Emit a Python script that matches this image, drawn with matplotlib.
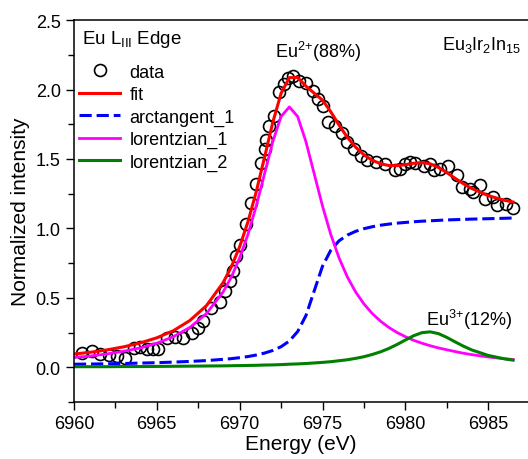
import matplotlib
matplotlib.use('Agg')
import matplotlib.pyplot as plt
from matplotlib.ticker import MultipleLocator

plt.rcParams['font.family'] = ['Liberation Sans', 'DejaVu Sans']
plt.rcParams['mathtext.fontset'] = 'custom'
plt.rcParams['mathtext.rm'] = 'Liberation Sans'
plt.rcParams['mathtext.it'] = 'Liberation Sans'

# measured points (open circles)
data_x = [6960.5, 6961.1, 6961.6, 6962.1, 6962.6, 6963.1, 6963.6, 6964.0, 6964.4, 6964.8,
          6965.1, 6965.6, 6966.1, 6966.6, 6967.1, 6967.5, 6967.8, 6968.3, 6968.8, 6969.1,
          6969.4, 6969.6, 6969.8, 6970.0, 6970.4, 6970.7, 6971.0, 6971.3, 6971.5, 6971.6,
          6971.8, 6972.1, 6972.4, 6972.7, 6972.9, 6973.2, 6973.6, 6974.0, 6974.4, 6974.75,
          6975.05, 6975.35, 6975.75, 6976.2, 6976.5, 6976.9, 6977.3, 6977.7, 6978.2, 6978.8,
          6979.4, 6979.7, 6980.0, 6980.3, 6980.6, 6981.1, 6981.5, 6981.7, 6982.1, 6982.6,
          6983.1, 6983.4, 6983.9, 6984.1, 6984.5, 6984.8, 6985.3, 6985.5, 6986.1, 6986.5]
data_y = [0.105, 0.12, 0.095, 0.085, 0.078, 0.068, 0.14, 0.145, 0.135, 0.135,
          0.132, 0.21, 0.22, 0.21, 0.25, 0.28, 0.33, 0.43, 0.47, 0.55,
          0.62, 0.69, 0.80, 0.88, 1.03, 1.18, 1.32, 1.47, 1.57, 1.64,
          1.74, 1.81, 1.98, 2.04, 2.08, 2.10, 2.06, 2.05, 1.99, 1.93,
          1.88, 1.77, 1.74, 1.69, 1.62, 1.57, 1.525, 1.49, 1.475, 1.465,
          1.42, 1.43, 1.465, 1.48, 1.47, 1.45, 1.465, 1.42, 1.43, 1.453,
          1.385, 1.30, 1.285, 1.26, 1.31, 1.215, 1.226, 1.166, 1.178, 1.147]

# energies at which the fitted curves were read
curve_x = [6960, 6961, 6962, 6963, 6964, 6965, 6966, 6967, 6968, 6969, 6969.5,
           6970, 6970.5, 6971, 6971.5, 6972, 6972.5, 6973, 6973.5, 6974, 6974.5,
           6975, 6975.5, 6976, 6976.5, 6977, 6977.5, 6978, 6978.5, 6979, 6979.5,
           6980, 6980.5, 6981, 6981.5, 6982, 6982.5, 6983, 6983.5, 6984, 6985,
           6986, 6986.5]
fit_y = [0.095, 0.108, 0.125, 0.147, 0.175, 0.212, 0.263, 0.337, 0.444, 0.609, 0.724,
         0.868, 1.047, 1.264, 1.511, 1.764, 1.973, 2.086, 2.087, 2.025, 1.974,
         1.924, 1.840, 1.744, 1.656, 1.585, 1.530, 1.491, 1.466, 1.453, 1.452,
         1.459, 1.469, 1.474, 1.465, 1.439, 1.402, 1.361, 1.322, 1.288, 1.236,
         1.202, 1.190]
arctan_y = [0.022, 0.023, 0.025, 0.027, 0.030, 0.033, 0.037, 0.042, 0.048, 0.057, 0.062,
            0.069, 0.077, 0.088, 0.102, 0.121, 0.148, 0.189, 0.257, 0.372, 0.550,
            0.728, 0.843, 0.911, 0.952, 0.979, 0.998, 1.012, 1.023, 1.031, 1.038,
            1.043, 1.048, 1.052, 1.055, 1.058, 1.061, 1.063, 1.065, 1.067, 1.070,
            1.073, 1.075]
lor1_y = [0.070, 0.081, 0.096, 0.115, 0.139, 0.173, 0.220, 0.287, 0.387, 0.542, 0.650,
          0.787, 0.956, 1.161, 1.393, 1.625, 1.806, 1.875, 1.806, 1.625, 1.393,
          1.161, 0.956, 0.787, 0.650, 0.542, 0.456, 0.387, 0.332, 0.287, 0.250,
          0.220, 0.194, 0.173, 0.155, 0.139, 0.126, 0.113, 0.101, 0.091, 0.074,
          0.061, 0.056]
lor2_y = [0.004, 0.004, 0.004, 0.005, 0.005, 0.006, 0.007, 0.008, 0.009, 0.010, 0.011,
          0.012, 0.013, 0.014, 0.016, 0.017, 0.019, 0.022, 0.024, 0.027, 0.031,
          0.035, 0.040, 0.047, 0.054, 0.064, 0.076, 0.092, 0.111, 0.135, 0.164,
          0.196, 0.227, 0.249, 0.255, 0.242, 0.215, 0.183, 0.152, 0.125, 0.085,
          0.060, 0.051]

fig = plt.figure(figsize=(5.28, 4.6), dpi=100)
ax = fig.add_axes([0.140, 0.124, 0.860, 0.830])

ax.plot(data_x, data_y, 'o', mfc='none', mec='black', ms=8.6, mew=1.2, label='data')
ax.plot(curve_x, fit_y, color='red', lw=2.2, label='fit')
ax.plot(curve_x, arctan_y, color='blue', lw=2.2, dashes=(4, 1.6), label='arctangent_1')
ax.plot(curve_x, lor1_y, color='magenta', lw=2.0, label='lorentzian_1')
ax.plot(curve_x, lor2_y, color='green', lw=2.2, label='lorentzian_2')

ax.set_xlim(6960, 6987.4)
ax.set_ylim(-0.25, 2.5)
ax.xaxis.set_major_locator(MultipleLocator(5))
ax.xaxis.set_minor_locator(MultipleLocator(2.5))
ax.yaxis.set_major_locator(MultipleLocator(0.5))
ax.yaxis.set_minor_locator(MultipleLocator(0.25))
ax.yaxis.set_major_formatter(plt.FormatStrFormatter('%.1f'))
ax.tick_params(which='major', direction='out', length=6, width=1, labelsize=13)
ax.tick_params(which='minor', direction='out', length=4, width=1)
ax.spines['right'].set_visible(False)
for s in ['left', 'bottom', 'top']:
    ax.spines[s].set_linewidth(1.1)

ax.set_xlabel('Energy (eV)', fontsize=15, labelpad=1)
ax.set_ylabel('Normalized intensity', fontsize=15, labelpad=4)

ax.text(0.018, 0.953, 'Eu L$_{\\rm III}$ Edge', transform=ax.transAxes, fontsize=13.5,
        ha='left', va='center')
ax.text(6974.7, 2.28, 'Eu$^{2{+}}$(88%)', fontsize=13, ha='center', va='center')
ax.text(6984.6, 2.33, 'Eu$_3$Ir$_2$In$_{15}$', fontsize=13, ha='center', va='center')
ax.text(6983.85, 0.35, 'Eu$^{3{+}}$(12%)', fontsize=13, ha='center', va='center')

ax.legend(loc='upper left', bbox_to_anchor=(-0.005, 0.905), frameon=False, fontsize=13,
          handlelength=2.3, handletextpad=0.5, labelspacing=0.3, borderaxespad=0)

fig.savefig('out.png', dpi=100)
